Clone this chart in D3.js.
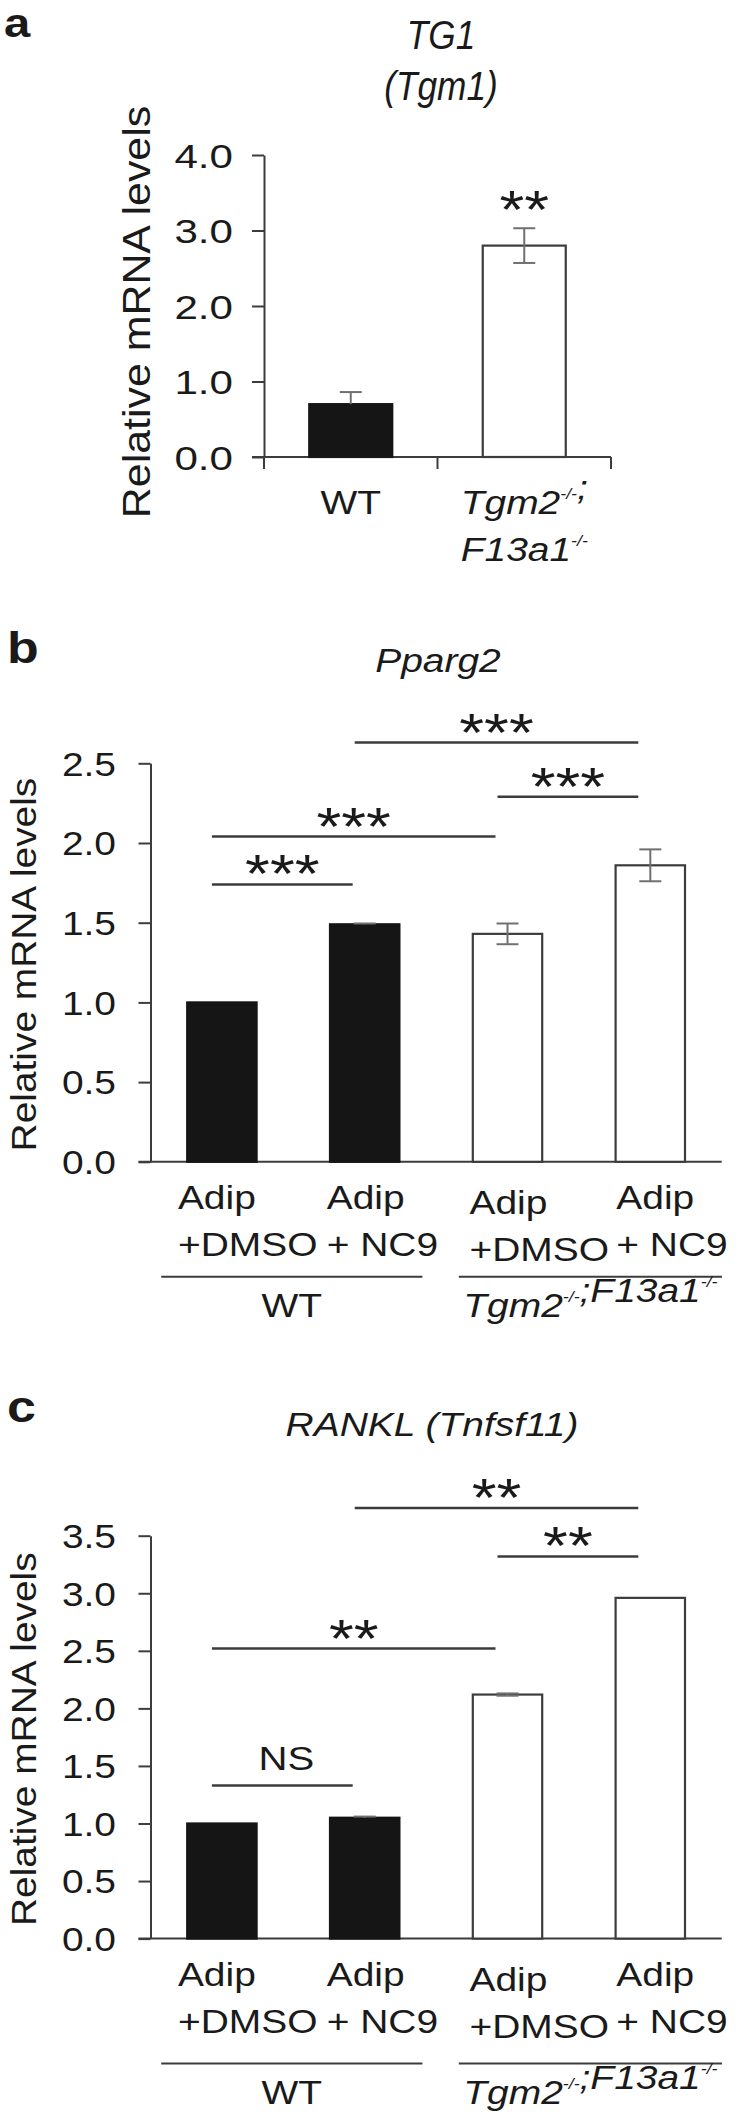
<!DOCTYPE html>
<meta charset="utf-8">
<head>
<script src="https://cdn.jsdelivr.net/npm/d3@7/dist/d3.min.js"></script>
<style>
  body { margin: 0; background: #fff; }
  text { font-family: "Liberation Sans", Arial, Helvetica, sans-serif; fill: #1a1a1a; }
</style>
<title>TG1 / Pparg2 / RANKL</title>
</head>
<body>
<div id="fig"></div>
<script>
// ---- data ----
// panel a: TG1 (Tgm1)
var catsA = ["WT", "Tgm2;F13a1"];
var valsA = [0.70, 2.80];
var errA  = [0.16, 0.23];
var ticksA = [0, 1, 2, 3, 4];
var starA = {idx: 1, y: 3.45, label: "**"};

// panels b and c share the same four groups
var cats = ["WT DMSO", "WT NC9", "KO DMSO", "KO NC9"];
var treat1 = ["Adip", "Adip", "Adip", "Adip"];
var treat2 = ["+DMSO", "+ NC9", "+DMSO", "+ NC9"];

// panel b: Pparg2
var valsB = [1.00, 1.49, 1.43, 1.86];
var errB  = [0, 0.005, 0.065, 0.10];
var ticksB = [0, 0.5, 1.0, 1.5, 2.0, 2.5];
var sigB = [
  {from: 0, to: 1, y: 1.74, label: "***"},
  {from: 0, to: 2, y: 2.04, label: "***"},
  {from: 2, to: 3, y: 2.29, label: "***"},
  {from: 1, to: 3, y: 2.63, label: "***"}
];

// panel c: RANKL (Tnfsf11)
var valsC = [1.00, 1.05, 2.12, 2.96];
var errC  = [0, 0.01, 0.01, 0];
var ticksC = [0, 0.5, 1.0, 1.5, 2.0, 2.5, 3.0, 3.5];
var sigC = [
  {from: 0, to: 1, y: 1.33, label: "NS"},
  {from: 0, to: 2, y: 2.52, label: "**"},
  {from: 2, to: 3, y: 3.32, label: "**"},
  {from: 1, to: 3, y: 3.74, label: "**"}
];

// ---- drawing ----
var W = 742, H = 2117;
var SX = 1.18;          // most lettering is a bit wider than Arial
var AX = "#3c3c3c", ERR = "#707070", DARK = "#151515";
var labelShift = [-44, -38, -38, -34];   // where each two-line treatment label starts
var labelDrop  = [0, 0, 5, 0];

var svg = d3.select("#fig").append("svg")
    .attr("width", W).attr("height", H);

// text helper: stretched along the writing direction, optional rotation and superscripts
function txt(g, x, y, parts, o) {
  o = o || {};
  var sx = o.sx || SX;
  var tr = "translate(" + x + "," + y + ")" + (o.rot ? " rotate(-90)" : "") + " scale(" + sx + ",1)";
  var t = g.append("text")
      .attr("transform", tr)
      .attr("text-anchor", o.anchor || "middle")
      .attr("font-size", o.size || 33)
      .attr("font-style", o.italic ? "italic" : null)
      .attr("font-weight", o.bold ? "bold" : null);
  if (typeof parts === "string") { t.text(parts); return t; }
  parts.forEach(function(p) {
    if (p.sup) {
      t.append("tspan").attr("font-size", 15).attr("dy", -15).text(p.sup);
      t.append("tspan").attr("dy", 15).text("");
    } else {
      t.append("tspan").text(p.t);
    }
  });
  return t;
}

function yAxis(g, y, x0, ticks, size, gap, sx) {
  var ax = g.append("g").attr("transform", "translate(" + x0 + ",0)")
      .call(d3.axisLeft(y).tickValues(ticks).tickFormat(d3.format(".1f")).tickSize(12).tickSizeOuter(0));
  ax.select(".domain").attr("stroke", AX).attr("stroke-width", 2);
  ax.selectAll(".tick line").attr("stroke", AX).attr("stroke-width", 2);
  ax.selectAll(".tick text")
      .attr("x", 0).attr("dy", "0.36em")
      .attr("transform", "translate(" + (-gap) + ",0) scale(" + sx + ",1)")
      .attr("font-size", size).attr("fill", "#1a1a1a");
  return ax;
}

function hline(g, x1, x2, y, w) {
  g.append("line").attr("x1", x1).attr("x2", x2).attr("y1", y).attr("y2", y)
      .attr("stroke", AX).attr("stroke-width", w || 2.5);
}

function drawBars(g, x, y, names, vals, errs, darkCount) {
  var bw = x.bandwidth();
  g.selectAll("rect.bar").data(vals).enter().append("rect")
      .attr("class", "bar")
      .attr("x", function(d, i) { return x(names[i]) + 1; })
      .attr("y", function(d) { return y(d); })
      .attr("width", bw - 2)
      .attr("height", function(d) { return y(0) - y(d); })
      .attr("fill", function(d, i) { return i < darkCount ? DARK : "#fff"; })
      .attr("stroke", function(d, i) { return i < darkCount ? DARK : AX; })
      .attr("stroke-width", 2.2);
  vals.forEach(function(v, i) {
    var e = errs[i];
    if (!e) return;
    var cx = x(names[i]) + bw / 2;
    var lo = i < darkCount ? v : v - e;
    g.append("line").attr("x1", cx).attr("x2", cx).attr("y1", y(lo)).attr("y2", y(v + e))
        .attr("stroke", ERR).attr("stroke-width", 2);
    g.append("line").attr("x1", cx - 11).attr("x2", cx + 11).attr("y1", y(v + e)).attr("y2", y(v + e))
        .attr("stroke", ERR).attr("stroke-width", 2);
    if (i >= darkCount) {
      g.append("line").attr("x1", cx - 11).attr("x2", cx + 11).attr("y1", y(v - e)).attr("y2", y(v - e))
          .attr("stroke", ERR).attr("stroke-width", 2);
    }
  });
}

// ===== panel a =====
var ga = svg.append("g");
var xA = d3.scaleBand().domain(catsA).range([264, 611]).paddingInner(0.51).paddingOuter(0.255);
var yA = d3.scaleLinear().domain([0, 4]).range([457, 155]);

txt(ga, 4, 37, "a", {anchor: "start", bold: true, size: 40});
txt(ga, 441, 49, "TG1", {italic: true, size: 40, sx: 0.88});
txt(ga, 441, 100, "(Tgm1)", {italic: true, size: 40, sx: 0.88});
txt(ga, 150, 312, "Relative mRNA levels", {rot: true, size: 39, sx: 1.1});

yAxis(ga, yA, 264, ticksA, 34, 31, 1.24);
// base line with downward category ticks
hline(ga, 252, 611, yA(0), 2);
[xA.range()[0], (xA("WT") + xA.bandwidth() + xA("Tgm2;F13a1")) / 2, xA.range()[1]].forEach(function(t) {
  ga.append("line").attr("x1", t).attr("x2", t).attr("y1", yA(0)).attr("y2", yA(0) + 12)
      .attr("stroke", AX).attr("stroke-width", 2);
});
drawBars(ga, xA, yA, catsA, valsA, errA, 1);
txt(ga, xA(catsA[starA.idx]) + xA.bandwidth() / 2, yA(starA.y) + 31, starA.label, {size: 54});

txt(ga, xA("WT") + xA.bandwidth() / 2, 514, "WT", {size: 33});
txt(ga, xA("Tgm2;F13a1") + xA.bandwidth() / 2, 514, [{t: "Tgm2"}, {sup: "-/-"}, {t: ";"}], {italic: true, size: 33});
txt(ga, xA("Tgm2;F13a1") + xA.bandwidth() / 2, 561, [{t: "F13a1"}, {sup: "-/-"}], {italic: true, size: 33});

// ===== panels b and c =====
function fourBarPanel(cfg) {
  var g = svg.append("g");
  var x = d3.scaleBand().domain(cats).range([150.5, 721.7]).paddingInner(0.5).paddingOuter(0.25);
  var y = d3.scaleLinear().domain([0, cfg.max]).range([cfg.y0, cfg.y1]);
  var bw = x.bandwidth();
  var cx = function(i) { return x(cats[i]) + bw / 2; };

  txt(g, 7, cfg.letterY, cfg.letter, {anchor: "start", bold: true, size: 44});
  txt(g, cfg.titleX, cfg.titleY, cfg.title, {italic: true, size: 33});
  txt(g, 36, (cfg.y0 + cfg.y1) / 2 + 2, "Relative mRNA levels", {rot: true, size: 36, sx: 1.08});

  yAxis(g, y, 150.5, cfg.ticks, 33, 34.5, SX);
  hline(g, 138.5, 721.7, y(0), 2);
  drawBars(g, x, y, cats, cfg.vals, cfg.errs, 2);

  cfg.sig.forEach(function(s) {
    var x1 = cx(s.from) - 10, x2 = cx(s.to) - 12, ly = y(s.y);
    hline(g, x1, x2, ly);
    if (s.label === "NS") txt(g, (x1 + x2) / 2 + 4, ly - 15, s.label, {size: 34});
    else txt(g, (x1 + x2) / 2, ly + 8, s.label, {size: 54});
  });

  cats.forEach(function(c, i) {
    txt(g, cx(i) + labelShift[i], cfg.y0 + 47 + labelDrop[i], treat1[i], {anchor: "start", size: 33});
    txt(g, cx(i) + labelShift[i], cfg.y0 + 94 + labelDrop[i], treat2[i], {anchor: "start", size: 33});
  });

  var gy = cfg.y0 + cfg.groupDy;
  var wtL = x(cats[0]) - 25, wtR = x(cats[1]) + bw + 22;
  var koL = x(cats[2]) - 13, koR = x(cats[3]) + bw + 36;
  hline(g, wtL, wtR, gy, 2);
  hline(g, koL, koR, gy, 2);
  txt(g, (wtL + wtR) / 2, gy + 40, "WT", {size: 33});
  txt(g, (koL + koR) / 2, gy + 40, [{t: "Tgm2"}, {sup: "-/-"}, {t: ";F13a1"}, {sup: "-/-"}], {italic: true, size: 33});
}

fourBarPanel({
  letter: "b", letterY: 663, title: "Pparg2", titleX: 438, titleY: 672,
  max: 2.5, y0: 1161.8, y1: 763.3, ticks: ticksB,
  vals: valsB, errs: errB, sig: sigB, groupDy: 115
});

fourBarPanel({
  letter: "c", letterY: 1422, title: "RANKL (Tnfsf11)", titleX: 432, titleY: 1436,
  max: 3.5, y0: 1938.6, y1: 1535.7, ticks: ticksC,
  vals: valsC, errs: errC, sig: sigC, groupDy: 125
});
</script>
</body>
